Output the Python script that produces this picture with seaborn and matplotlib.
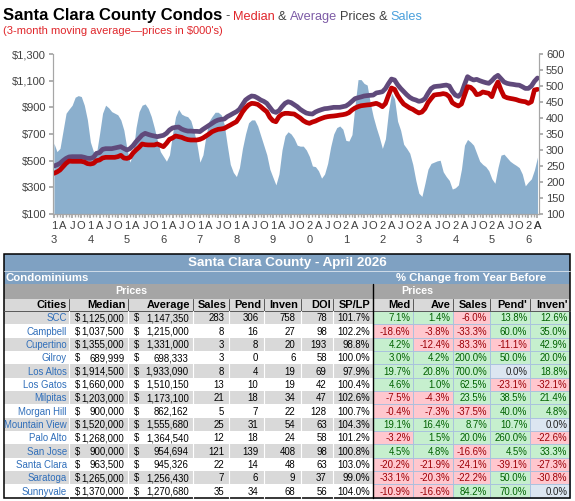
import numpy as np
import pandas as pd
import matplotlib
matplotlib.use("Agg")
from matplotlib import pyplot as plt
from matplotlib import font_manager
from matplotlib.patches import Rectangle
import seaborn as sb

# ---- chart data: 3-month moving averages, Jan 2013 .. Apr 2026 ----
# prices in $000's
median_price = [
    405, 415, 430, 455, 480, 497, 495, 495, 495, 495, 490, 478,   # 2013
    475, 480, 500, 505, 520, 525, 525, 525, 525, 530, 540, 520,   # 2014
    517, 525, 557, 580, 600, 625, 620, 618, 618, 618, 625, 615,   # 2015
    605, 630, 660, 670, 685, 680, 675, 665, 658, 655, 655, 655,   # 2016
    660, 670, 685, 700, 717, 727, 735, 738, 742, 755, 767, 780,   # 2017
    792, 825, 865, 895, 918, 930, 928, 922, 905, 885, 867, 825,   # 2018
    800, 792, 830, 848, 855, 855, 852, 850, 835, 820, 800, 787,   # 2019
    780, 790, 797, 808, 817, 825, 830, 833, 835, 838, 842, 845,   # 2020
    850, 860, 880, 895, 905, 912, 915, 918, 920, 925, 930, 920,   # 2021
    905, 928, 990, 1045, 1035, 990, 955, 925, 910, 895, 885, 870, # 2022
    858, 865, 890, 935, 965, 992, 996, 998, 1003, 998, 980, 935,  # 2023
    920, 910, 925, 990, 1055, 1050, 1030, 995, 1000, 1015, 1010, 1005,  # 2024
    980, 1045, 1090, 1030, 982, 972, 967, 963, 958, 950, 945, 942,      # 2025
    930, 942, 1030, 1035,                                                # 2026
]
average_price = [
    460, 468, 480, 500, 517, 528, 530, 530, 530, 530, 525, 518,
    517, 525, 555, 560, 585, 590, 590, 590, 595, 600, 605, 592,
    580, 590, 612, 642, 667, 692, 705, 697, 690, 685, 680, 685,
    690, 705, 730, 745, 750, 752, 737, 728, 722, 722, 720, 720,
    718, 735, 750, 765, 780, 795, 805, 810, 812, 830, 842, 855,
    867, 885, 920, 955, 972, 985, 982, 970, 955, 945, 930, 900,
    870, 862, 875, 905, 930, 942, 935, 920, 905, 885, 870, 857,
    852, 850, 865, 875, 883, 890, 892, 896, 900, 900, 900, 905,
    910, 925, 945, 965, 972, 978, 985, 988, 990, 992, 1008, 1012,
    1017, 1040, 1078, 1112, 1105, 1070, 1042, 1018, 995, 975, 962, 955,
    945, 950, 965, 1005, 1040, 1055, 1058, 1060, 1064, 1067, 1060, 1020,
    992, 982, 1005, 1070, 1130, 1115, 1105, 1110, 1100, 1092, 1085, 1080,
    1100, 1125, 1140, 1115, 1090, 1080, 1075, 1072, 1068, 1066, 1055, 1042,
    1042, 1060, 1095, 1120,
]
sales = [
    321, 295, 305, 360, 415, 428, 440, 465, 470, 467, 440, 395,
    325, 295, 290, 350, 415, 440, 432, 420, 415, 410, 394, 362,
    305, 262, 290, 370, 420, 440, 444, 430, 405, 370, 330, 295,
    280, 265, 285, 350, 404, 427, 412, 407, 404, 392, 360, 320,
    262, 285, 345, 390, 405, 418, 418, 410, 380, 315, 255, 230,
    217, 245, 305, 350, 385, 394, 394, 375, 345, 315, 285, 240,
    215, 191, 225, 300, 345, 357, 350, 336, 315, 312, 312, 300,
    280, 250, 248, 235, 212, 225, 258, 310, 350, 370, 375, 365,
    330, 328, 348, 440, 520, 520, 508, 503, 448, 404, 370, 340,
    305, 335, 420, 478, 460, 390, 362, 318, 305, 290, 255, 205,
    165, 155, 196, 240, 258, 262, 266, 268, 232, 217, 205, 178,
    182, 191, 240, 315, 333, 325, 315, 290, 265, 255, 248, 235,
    210, 196, 245, 284, 287, 276, 265, 258, 252, 245, 225, 188,
    200, 210, 238, 278,
]
first_year = 13

# ---- table data: April 2026 ----
cities = ["SCC", "Campbell", "Cupertino", "Gilroy", "Los Altos", "Los Gatos", "Milpitas",
          "Morgan Hill", "Mountain View", "Palo Alto", "San Jose", "Santa Clara",
          "Saratoga", "Sunnyvale"]
t_median = [1125000, 1037500, 1355000, 689999, 1914500, 1660000, 1203000, 900000,
            1520000, 1268000, 900000, 963500, 1265000, 1370000]
t_average = [1147350, 1215000, 1331000, 698333, 1933090, 1510150, 1173100, 862162,
             1555680, 1364540, 954694, 945326, 1256430, 1270680]
t_sales = [283, 8, 3, 3, 8, 13, 21, 5, 25, 12, 121, 22, 7, 35]
t_pend = [306, 16, 8, 0, 4, 10, 18, 7, 31, 18, 139, 14, 6, 34]
t_inven = [758, 27, 20, 6, 19, 19, 34, 22, 54, 24, 408, 48, 9, 68]
t_doi = [78, 98, 193, 58, 69, 42, 47, 128, 63, 58, 98, 63, 37, 56]
t_splp = [101.7, 102.2, 98.8, 100.0, 97.9, 100.4, 102.6, 100.7, 104.3, 101.2, 100.8,
          103.0, 99.0, 104.0]
chg_med = [7.1, -18.6, 4.2, 3.0, 19.7, 4.6, -7.5, -0.4, 19.1, -3.2, 4.5, -20.2, -33.1, -10.9]
chg_ave = [1.4, -3.8, -12.4, 4.2, 20.8, 1.0, -4.3, -7.3, 16.4, 1.5, 4.8, -21.9, -20.3, -16.6]
chg_sales = [-6.0, -33.3, -83.3, 200.0, 700.0, 62.5, 23.5, -37.5, 8.7, 20.0, -16.6, -24.1,
             -22.2, 84.2]
chg_pend = [13.8, 60.0, -11.1, 50.0, 0.0, -23.1, 38.5, 40.0, 10.7, 260.0, 4.5, -39.1, 50.0, 70.0]
chg_inven = [12.6, 35.0, 42.9, 20.0, 18.8, -32.1, 21.4, 4.8, 0.0, -22.6, 33.3, -27.3, -30.8, 0.0]

left_heads = ["Cities", "Median", "Average", "Sales", "Pend", "Inven", "DOI", "SP/LP"]
right_heads = ["Med", "Ave", "Sales", "Pend'", "Inven'"]

# ---- style ----
sb.set_theme(style="white")
installed = {f.name for f in font_manager.fontManager.ttflist}
base = "Liberation Sans" if "Liberation Sans" in installed else "DejaVu Sans"
narrow = "Liberation Sans Narrow" if "Liberation Sans Narrow" in installed else None
plt.rcParams["font.family"] = [base, "DejaVu Sans"]

W, H = 575, 501
fig = plt.figure(figsize=(W / 100, H / 100), dpi=100)

def box(l, t, r, b):
    return [l / W, 1 - b / H, (r - l) / W, (b - t) / H]

GRAY = "#404040"
AX_GRAY = "#A6A6A6"

n = len(median_price)
df = pd.DataFrame({"month": np.arange(n), "median": median_price,
                   "average": average_price, "sales": sales})
xlim = (-0.3, n - 0.5)

# ---- sales area (right axis), separate axes underneath ----
ax_s = fig.add_axes(box(53, 54, 539, 214))
ax_s.fill_between(df["month"], 100, df["sales"], color="#8BAFCD", lw=0)
ax_s.set_xlim(*xlim)
ax_s.set_ylim(100, 600)
ax_s.set_yticks(range(100, 601, 50))
ax_s.yaxis.tick_right()
ax_s.xaxis.set_visible(False)
ax_s.tick_params(axis="y", right=True, left=False, length=3, color=AX_GRAY, labelsize=8,
                 labelcolor=GRAY, pad=2)

# ---- price lines (left axis) ----
ax = fig.add_axes(box(53, 54, 539, 214))
ax.patch.set_visible(False)
sb.lineplot(data=df, x="month", y="average", ax=ax, color="#604A7B", lw=3.4)
sb.lineplot(data=df, x="month", y="median", ax=ax, color="#C00000", lw=3.4)
ax.set_ylim(100, 1300)
ax.set_xlabel("")
ax.set_ylabel("")
ax.set_yticks(range(100, 1301, 200))
ax.set_yticklabels(["${:,}".format(v) for v in range(100, 1301, 200)])

major = list(range(0, n, 3))
qlab = {3: "A", 6: "J", 9: "O"}
labels = []
for i in major:
    if i % 12 == 0:
        yy = first_year + i // 12
        labels.append("%d\n%d" % (yy // 10, yy % 10))
    else:
        labels.append(qlab[i % 12])
ax.set_xticks(major, labels)
ax.set_xticks(range(n), minor=True)
ax.set_xlim(*xlim)
for t in ax.get_xticklabels():
    t.set_linespacing(1.45)

ax.tick_params(axis="x", which="major", bottom=True, length=3, color=AX_GRAY,
               labelsize=8, labelcolor=GRAY, pad=2)
ax.tick_params(axis="x", which="minor", bottom=True, length=2, color=AX_GRAY)
ax.tick_params(axis="y", left=True, length=3, color=AX_GRAY, labelsize=8,
               labelcolor=GRAY, pad=2)
for a in (ax, ax_s):
    a.spines["top"].set_visible(False)
    for s in ("left", "right", "bottom"):
        a.spines[s].set_color(AX_GRAY)
        a.spines[s].set_linewidth(0.8)

# ---- overlay in pixel coordinates for title and table ----
ov = fig.add_axes([0, 0, 1, 1])
ov.set_xlim(0, W)
ov.set_ylim(H, 0)
ov.axis("off")
ov.set_zorder(-1)

fig.canvas.draw()
rend = fig.canvas.get_renderer()

# the last quarter label sits on the right spine; make sure it is shown
ref_lab = ax.get_xticklabels()[-2].get_window_extent(renderer=rend)
x_last = ax.transData.transform((major[-1], 0))[0]
ov.text(x_last, H - ref_lab.y1, labels[-1], ha="center", va="top", fontsize=8, color=GRAY)

def run_text(x, y, parts, gap):
    for s, color, kw in parts:
        t = ov.text(x, y, s, color=color, va="baseline", ha="left", **kw)
        bb = t.get_window_extent(renderer=rend)
        x = ov.transData.inverted().transform((bb.x1, bb.y0))[0] + gap

if narrow:
    title_kw = dict(fontsize=14.4, fontweight="bold", family=[narrow, base])
else:
    title_kw = dict(fontsize=12, fontweight="bold")
sub_kw = dict(fontsize=9.2)
run_text(3, 19.5, [("Santa Clara County Condos", "black", title_kw)], 0)
t0 = ov.texts[-1].get_window_extent(renderer=rend)
x0 = ov.transData.inverted().transform((t0.x1, t0.y0))[0] + 3
run_text(x0, 19.5, [("-", GRAY, sub_kw), ("Median", "#E0262B", sub_kw), ("&", GRAY, sub_kw),
                    ("Average", "#7D5BA6", sub_kw), ("Prices", GRAY, sub_kw),
                    ("&", GRAY, sub_kw), ("Sales", "#4AA0DC", sub_kw)], 3.2)
ov.text(3, 34, "(3-month moving average\u2014prices in $000's)", color="#E0262B",
        fontsize=8, va="baseline", ha="left")

# ---- table ----
cols = [4, 69.3, 128.3, 192.7, 229.3, 264.3, 300.5, 333.3, 372.7,
        413.3, 452.7, 490, 530, 570]
y_title, y_condo, y_prices, y_head, y_data = 254, 271, 283.5, 298.5, 311
row_h = 13.33
y_bottom = y_data + row_h * len(cities)
STEEL = "#7FA1C2"
MID = "#A5A5A5"
LIGHT = "#D9D9D9"

def rect(l, t, r, b, color, **kw):
    ov.add_patch(Rectangle((l, t), r - l, b - t, facecolor=color, lw=0, **kw))

rect(cols[0], y_title, cols[-1], y_condo, STEEL)
rect(cols[0], y_condo, cols[-1], y_prices, STEEL)
rect(cols[0], y_prices, cols[-1], y_head, MID)
rect(cols[0], y_head, cols[-1], y_data, LIGHT)
ov.plot([cols[0], cols[-1]], [y_condo, y_condo], color="#DDE6EF", lw=0.6)

bold_w = dict(color="white", fontweight="bold")
ov.text((cols[0] + cols[-1]) / 2, (y_title + y_condo) / 2 + 0.5,
        "Santa Clara County - April 2026", ha="center", va="center", fontsize=9.6, **bold_w)
ov.text(cols[0] + 2, (y_condo + y_prices) / 2 + 0.5, "Condominiums", ha="left",
        va="center", fontsize=8.2, **bold_w)
ov.text((cols[8] + cols[-1]) / 2, (y_condo + y_prices) / 2 + 0.5, "% Change from Year Before",
        ha="center", va="center", fontsize=8.2, **bold_w)
ov.text((cols[1] + cols[3]) / 2, (y_prices + y_head) / 2 + 0.5, "Prices", ha="center",
        va="center", fontsize=7.7, **bold_w)
ov.text((cols[8] + cols[10]) / 2 + 5, (y_prices + y_head) / 2 + 0.5, "Prices", ha="center",
        va="center", fontsize=7.7, **bold_w)

heads = left_heads + right_heads
for j, h in enumerate(heads):
    ov.text(cols[j + 1] - 2.5, (y_head + y_data) / 2 + 0.5, h, ha="right", va="center",
            fontsize=7.9, fontweight="bold", color="black")
    if j > 0:
        ov.plot([cols[j], cols[j]], [y_head, y_data], color="#595959", lw=0.7)
ov.plot([cols[0], cols[-1]], [y_data, y_data], color="#595959", lw=0.7)

def pct_style(v):
    if v > 0:
        return "#C6EFCE", "#006100"
    if v < 0:
        return "#FFC7CE", "#9C0006"
    return "#DCE6F1", "#1F1F1F"

fs = 6.9
for i, city in enumerate(cities):
    t = y_data + i * row_h
    b = t + row_h
    ym = (t + b) / 2 + 0.6
    rect(cols[0], t, cols[8], b, LIGHT if i % 2 == 0 else "white")
    ov.text(cols[1] - 2.5, ym, city, ha="right", va="center", fontsize=fs, color="#2F6EBA")
    for c, v in ((1, t_median[i]), (2, t_average[i])):
        ov.text(cols[c] + 6, ym, "$", ha="left", va="center", fontsize=fs, color="black")
        ov.text(cols[c + 1] - 4, ym, "{:,}".format(v), ha="right", va="center", fontsize=fs,
                color="black")
    for c, v, pad in ((3, t_sales[i], 5), (4, t_pend[i], 6), (5, t_inven[i], 5),
                      (6, t_doi[i], 6.5)):
        ov.text(cols[c + 1] - pad, ym, str(v), ha="right", va="center", fontsize=fs,
                color="black")
    ov.text(cols[8] - 3, ym, "%.1f%%" % t_splp[i], ha="right", va="center", fontsize=fs,
            color="black")
    for k, arr in enumerate((chg_med, chg_ave, chg_sales, chg_pend, chg_inven)):
        v = arr[i]
        fc, tc = pct_style(v)
        l, r = cols[8 + k], cols[9 + k]
        ov.add_patch(Rectangle((l, t), r - l, row_h, facecolor=fc, edgecolor="#A7BFDE", lw=0.6))
        ov.text(r - 2.8, ym, "%.1f%%" % v, ha="right", va="center", fontsize=fs, color=tc)

for c in range(1, 8):
    ov.plot([cols[c], cols[c]], [y_data, y_bottom], color="white", lw=0.8)

ov.plot([cols[8], cols[8]], [y_prices, y_bottom], color="black", lw=1.0)
ov.add_patch(Rectangle((cols[0], y_title), cols[-1] - cols[0], y_bottom - y_title,
                       facecolor="none", edgecolor="black", lw=1.1))

fig.savefig("out.png", dpi=100)
